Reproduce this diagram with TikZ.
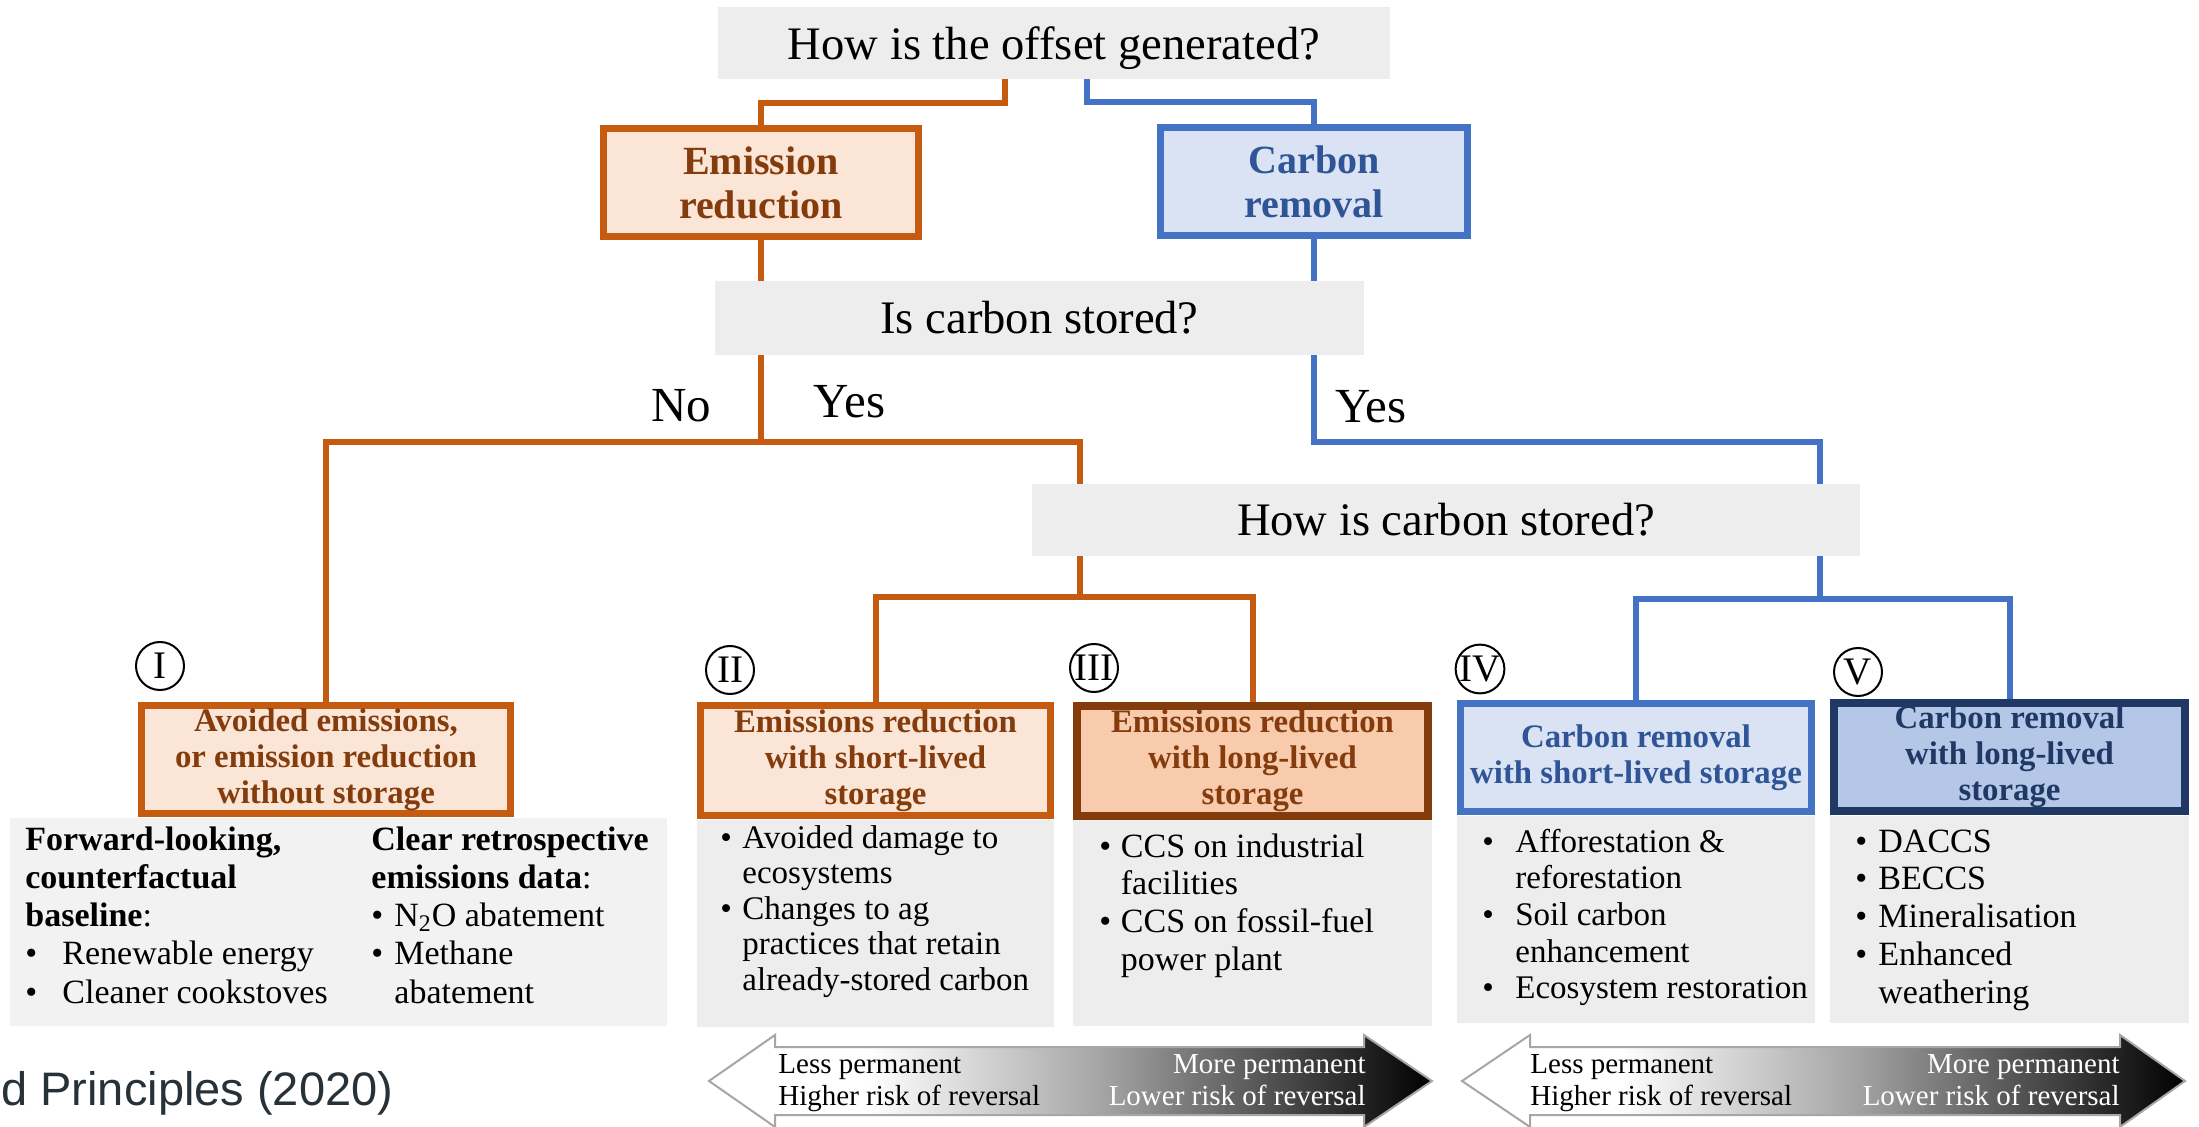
\documentclass[tikz,border=0pt]{standalone}
\usepackage{fontspec}
\setmainfont{Liberation Serif}
\newfontfamily\sansf{Liberation Sans}
\usetikzlibrary{calc}
\definecolor{colO}{HTML}{C55A11}
\definecolor{ofill}{HTML}{FBE5D6}
\definecolor{otext}{HTML}{843C0C}
\definecolor{othree}{HTML}{F8CBAD}
\definecolor{odark}{HTML}{843C0C}
\definecolor{colB}{HTML}{4472C4}
\definecolor{bfill}{HTML}{DAE3F3}
\definecolor{btext}{HTML}{2F5597}
\definecolor{bfive}{HTML}{B4C7E7}
\definecolor{bdark}{HTML}{203864}
\definecolor{qgrey}{HTML}{EDEDED}
\definecolor{cgrey}{HTML}{EDEDED}
\definecolor{cgreyI}{HTML}{F2F2F2}
\definecolor{arrgrey}{HTML}{A6A6A6}
\definecolor{slate}{HTML}{263238}
\pgfdeclarehorizontalshading{permshade}{100bp}{color(0bp)=(white); color(25bp)=(white); color(36bp)=(white); color(52bp)=(black!35); color(68bp)=(black!80); color(75bp)=(black); color(100bp)=(black)}
\newcommand\mybul[1]{\makebox[#1][l]{\textbullet}}
\tikzset{
 conO/.style={draw=colO, line width=3pt},
 conB/.style={draw=colB, line width=3pt},
 qbox/.style={fill=qgrey, inner sep=0pt, font=\fontsize{23.3}{28}\selectfont},
 lvl/.style={inner sep=0pt, align=center, line width=3.5pt, font=\fontsize{20}{22}\selectfont\bfseries},
 ebox/.style={lvl, draw=colO, fill=ofill, text=otext},
 rbox/.style={lvl, draw=colB, fill=bfill, text=btext},
 catbox/.style={inner sep=0pt, align=center, font=\fontsize{16.4}{18}\selectfont\bfseries},
 catO/.style={catbox, draw=colO, fill=ofill, line width=3.5pt, text=otext},
 catOO/.style={catbox, draw=odark, fill=othree, line width=4pt, text=otext},
 catB/.style={catbox, draw=colB, fill=bfill, line width=3.5pt, text=btext},
 catBB/.style={catbox, draw=bdark, fill=bfive, line width=4pt, text=bdark},
 cbox/.style={fill=cgrey, inner sep=0pt},
 ctext/.style={anchor=base west, inner sep=0pt, align=left},
 lbl/.style={inner sep=0pt, font=\fontsize{24.5}{28}\selectfont},
 numcirc/.style={circle, draw=black, line width=1pt, minimum size=24pt, inner sep=0pt, font=\fontsize{19.5}{19.5}\selectfont},
 arrtxt/.style={inner sep=0pt, font=\fontsize{14.5}{16}\selectfont},
 permarrow/.style={draw=arrgrey, line width=1pt, shading=permshade}
}
\begin{document}
\begin{tikzpicture}[x=0.5pt,y=-0.5pt]
\useasboundingbox (0,0) rectangle (2199,1127);
% content panels
\node[cbox, fill=cgreyI, minimum width=328.5pt, minimum height=104pt] (cI) at (338.5,922) {};
\node[cbox, minimum width=178.5pt, minimum height=103.5pt] (cII) at (875.5,923.5) {};
\node[cbox, minimum width=179.5pt, minimum height=103pt] (cIII) at (1252.5,923) {};
\node[cbox, minimum width=179pt, minimum height=103.5pt] (cIV) at (1636,919.5) {};
\node[cbox, minimum width=179.5pt, minimum height=103.5pt] (cV) at (2009.5,919.5) {};
% question boxes
\node[qbox, text depth=0pt, minimum width=336pt, minimum height=36pt] (q1) at (1054,43) {How is the offset generated?};
\node[qbox, minimum width=324.5pt, minimum height=37pt] (q2) at (1039.5,318) {Is carbon stored?};
\node[qbox, minimum width=414pt, minimum height=36pt] (q3) at (1446,520) {How is carbon stored?};
% level boxes
\node[ebox, minimum width=157.5pt, minimum height=54pt] (er) at (761,182.5) {Emission\\reduction};
\node[rbox, minimum width=153.5pt, minimum height=54pt] (cr) at (1314,181.5) {Carbon\\removal};
% category boxes
\node[catO, minimum width=184.5pt, minimum height=54pt] (bI) at (326,759.5) {Avoided emissions,\\or emission reduction\\without storage};
\node[catO, minimum width=175pt, minimum height=55pt] (bII) at (875.5,760.5) {Emissions reduction\\with short-lived\\storage};
\node[catOO, minimum width=175.5pt, minimum height=55pt] (bIII) at (1252.5,761) {Emissions reduction\\with long-lived\\storage};
\node[catB, minimum width=175.5pt, minimum height=54pt] (bIV) at (1636,757.5) {Carbon removal\\with short-lived storage};
\node[catBB, minimum width=175.5pt, minimum height=54pt] (bV) at (2009.5,757) {Carbon removal\\with long-lived\\storage};
% connectors
\coordinate (q1L) at (1005,79);
\coordinate (q1R) at (1087,79);
\draw[conO] (q1L) -- ++(0,24) -| (er.north);
\draw[conB] (q1R) -- ++(0,23) -| (cr.north);
\draw[conO] (er.south) -- (er.south |- q2.north);
\draw[conB] (cr.south) -- (cr.south |- q2.north);
\coordinate (oj1) at (761,442);
\coordinate (q3oT) at (1080,484);
\coordinate (q3bT) at (1820,484);
\draw[conO] (er.south |- q2.south) -- (oj1);
\draw[conO] (bI.north) |- (oj1) -| (q3oT);
\draw[conB] (cr.south |- q2.south) -- (cr.south |- oj1) -| (q3bT);
\coordinate (q3oB) at (1080,556);
\coordinate (oj2) at (1080,597);
\draw[conO] (q3oB) -- (oj2);
\draw[conO] (bII.north) |- (oj2) -| (bIII.north);
\coordinate (q3bB) at (1820,556);
\coordinate (bj2) at (1820,599);
\draw[conB] (q3bB) -- (bj2);
\draw[conB] (bIV.north) |- (bj2) -| (bV.north);
% labels
\node[lbl, anchor=base] (no) at (681,422) {No};
\node[lbl, anchor=base] (yesO) at (849.5,418) {Yes};
\node[lbl, anchor=base] (yesB) at (1371,423) {Yes};
% numerals
\node[numcirc] (nI) at (160,666) {I};
\node[numcirc] (nII) at (730,670) {II};
\node[numcirc] (nIII) at (1094,668) {III};
\node[numcirc] (nIV) at (1480,669) {IV};
\node[numcirc] (nV) at (1858,672) {V};
% panel texts
\node[ctext] (tIa) at (25,850) {\fontsize{17}{19.15}\selectfont\begin{tabular}[t]{@{}l@{}}
\textbf{Forward-looking,}\\
\textbf{counterfactual}\\
\textbf{baseline}:\\
\mybul{18.5pt}Renewable energy\\
\mybul{18.5pt}Cleaner cookstoves
\end{tabular}};
\node[ctext] (tIb) at (371,850) {\fontsize{17}{19.15}\selectfont\begin{tabular}[t]{@{}l@{}}
\textbf{Clear retrospective}\\
\textbf{emissions data}:\\
\mybul{11.5pt}N\textsubscript{2}O abatement\\
\mybul{11.5pt}Methane\\
\hspace*{11.5pt}abatement
\end{tabular}};
\node[ctext] (tII) at (720,848) {\fontsize{16.5}{17.75}\selectfont\begin{tabular}[t]{@{}l@{}}
\mybul{11pt}Avoided damage to\\
\hspace*{11pt}ecosystems\\
\mybul{11pt}Changes to ag\\
\hspace*{11pt}practices that retain\\
\hspace*{11pt}already-stored carbon
\end{tabular}};
\node[ctext] (tIII) at (1099,857) {\fontsize{17}{18.85}\selectfont\begin{tabular}[t]{@{}l@{}}
\mybul{10.75pt}CCS on industrial\\
\hspace*{10.75pt}facilities\\
\mybul{10.75pt}CCS on fossil-fuel\\
\hspace*{10.75pt}power plant
\end{tabular}};
\node[ctext] (tIV) at (1482,852) {\fontsize{16.5}{18.35}\selectfont\begin{tabular}[t]{@{}l@{}}
\mybul{16.5pt}Afforestation \&\\
\hspace*{16.5pt}reforestation\\
\mybul{16.5pt}Soil carbon\\
\hspace*{16.5pt}enhancement\\
\mybul{16.5pt}Ecosystem restoration
\end{tabular}};
\node[ctext] (tV) at (1855,852) {\fontsize{17}{18.9}\selectfont\begin{tabular}[t]{@{}l@{}}
\mybul{11.5pt}DACCS\\
\mybul{11.5pt}BECCS\\
\mybul{11.5pt}Mineralisation\\
\mybul{11.5pt}Enhanced\\
\hspace*{11.5pt}weathering
\end{tabular}};
% permanence arrows
\shadedraw[permarrow] (709,1081) -- (775,1035) -- (775,1047) -- (1364,1047) -- (1364,1035) -- (1432,1081) -- (1364,1127) -- (1364,1115) -- (775,1115) -- (775,1127) -- cycle;
\shadedraw[permarrow] (1462,1081) -- (1530,1035) -- (1530,1047) -- (2120,1047) -- (2120,1035) -- (2185,1081) -- (2120,1127) -- (2120,1115) -- (1530,1115) -- (1530,1127) -- cycle;
\node[arrtxt, anchor=base west] (a1a) at (778,1073) {Less permanent};
\node[arrtxt, anchor=base west] (a1b) at (778,1105) {Higher risk of reversal};
\node[arrtxt, anchor=base east, text=white] (a1c) at (1366,1073) {More permanent};
\node[arrtxt, anchor=base east, text=white] (a1d) at (1366,1105) {Lower risk of reversal};
\node[arrtxt, anchor=base west] (a2a) at (1530,1073) {Less permanent};
\node[arrtxt, anchor=base west] (a2b) at (1530,1105) {Higher risk of reversal};
\node[arrtxt, anchor=base east, text=white] (a2c) at (2120,1073) {More permanent};
\node[arrtxt, anchor=base east, text=white] (a2d) at (2120,1105) {Lower risk of reversal};
% source fragment
\node[inner sep=0pt, anchor=base west, text=slate, font=\sansf\fontsize{23.5}{28}\selectfont] (src) at (1,1105) {d Principles (2020)};
\end{tikzpicture}
\end{document}
